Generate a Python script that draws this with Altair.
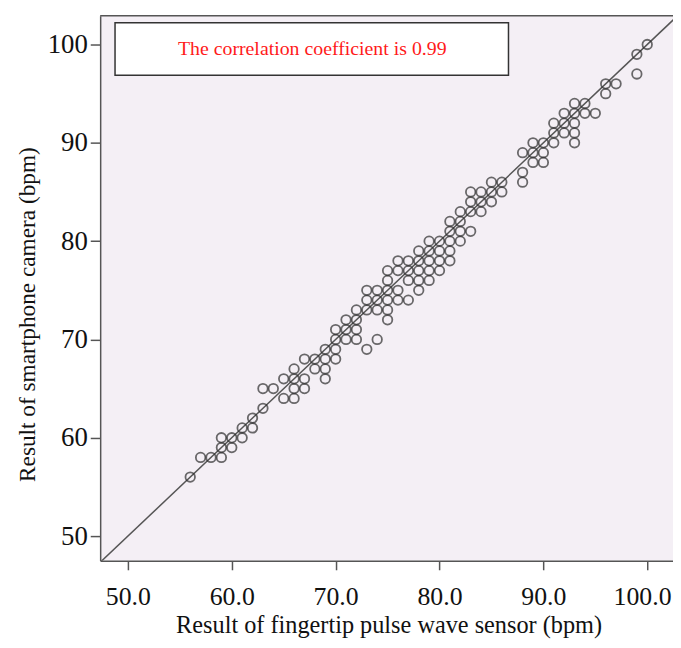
import altair as alt
import pandas as pd

# Points (fingertip sensor bpm, smartphone camera bpm)
x_vals = [56, 57, 58, 59, 59, 60, 59, 60, 61, 61, 62, 62, 63, 63, 64, 65, 66, 66, 67,
          65, 66, 67, 69, 66, 68, 69, 67, 68, 69, 70, 69, 70, 73, 70, 71, 72, 74,
          70, 71, 72, 71, 72, 75, 72, 73, 74, 75, 73, 74, 75, 76, 77, 73, 74, 75, 76, 78,
          75, 77, 78, 79, 75, 76, 77, 78, 79, 80, 76, 77, 78, 79, 80, 81, 78, 79, 80, 81,
          79, 80, 81, 82, 81, 82, 83, 81, 82, 82, 83, 84, 83, 84, 85, 83, 84, 85, 86,
          85, 86, 88, 88, 89, 90, 88, 89, 90, 89, 90, 91, 93, 91, 92, 93, 91, 92, 93,
          92, 93, 94, 95, 93, 94, 96, 96, 97, 99, 99, 100]
y_vals = [56, 58, 58, 58, 59, 59, 60, 60, 60, 61, 61, 62, 63, 65, 65, 64, 64, 65, 65,
          66, 66, 66, 66, 67, 67, 67, 68, 68, 68, 68, 69, 69, 69, 70, 70, 70, 70,
          71, 71, 71, 72, 72, 72, 73, 73, 73, 73, 74, 74, 74, 74, 74, 75, 75, 75, 75, 75,
          76, 76, 76, 76, 77, 77, 77, 77, 77, 77, 78, 78, 78, 78, 78, 78, 79, 79, 79, 79,
          80, 80, 80, 80, 81, 81, 81, 82, 82, 83, 83, 83, 84, 84, 84, 85, 85, 85, 85,
          86, 86, 86, 87, 88, 88, 89, 89, 89, 90, 90, 90, 90, 91, 91, 91, 92, 92, 92,
          93, 93, 93, 93, 94, 94, 95, 96, 96, 97, 99, 100]

line_ends = [47.3, 102.9]          # identity reference line y = x
x_ticks = [50, 60, 70, 80, 90, 100]
y_ticks = [50, 60, 70, 80, 90, 100]
annotation = ["The correlation coefficient is 0.99"]
x_title = "Result of fingertip pulse wave sensor (bpm)"
y_title = "Result of smartphone camera (bpm)"

X_DOMAIN = [47.33, 102.48]
Y_DOMAIN = [47.48, 102.92]
W, H = 578, 550
SERIF = "Liberation Serif"

df = pd.DataFrame({"x": x_vals, "y": y_vals})
line_df = pd.DataFrame({"x": line_ends, "y": line_ends})
ann_df = pd.DataFrame({"t": annotation})

xs = alt.Scale(domain=X_DOMAIN, nice=False, zero=False)
ys = alt.Scale(domain=Y_DOMAIN, nice=False, zero=False)

x_axis = alt.Axis(values=x_ticks, format=".1f", title=x_title, grid=False,
                  tickSize=9, labelPadding=14, labelFontSize=26, titleFontSize=24.5,
                  titleX=W / 2 + 2, titleY=72, titleBaseline="alphabetic",
                  labelFlush=27, labelFlushOffset=24)
y_axis = alt.Axis(values=y_ticks, format="d", title=y_title, grid=False,
                  tickSize=10, labelPadding=3, labelFontSize=27, titleFontSize=23.5,
                  titleX=-73, titleY=301, titleBaseline="middle", titleAlign="center",
                  labelFlush=False)

line = alt.Chart(line_df).mark_line(color="#555555", strokeWidth=1.5, clip=True).encode(
    x=alt.X("x:Q", scale=xs, axis=x_axis),
    y=alt.Y("y:Q", scale=ys, axis=y_axis),
)

points = alt.Chart(df).mark_point(shape="circle", filled=False, size=92, strokeWidth=1.8,
                                  color="#2e2e2e", opacity=0.7).encode(
    x=alt.X("x:Q", scale=xs),
    y=alt.Y("y:Q", scale=ys),
)

top_border = alt.Chart(ann_df).mark_rule(color="#555555", strokeWidth=1.5).encode(
    x=alt.value(0), x2=alt.value(W), y=alt.value(0)
)

box = alt.Chart(ann_df).mark_rect(fill="white", stroke="#333333", strokeWidth=1.5).encode(
    x=alt.value(15), x2=alt.value(412), y=alt.value(7), y2=alt.value(60)
)

label = alt.Chart(ann_df).mark_text(color="#ff1a1a", fontSize=20, font=SERIF).encode(
    x=alt.value(214), y=alt.value(34), text="t:N"
)

chart = alt.layer(line, points, top_border, box, label).properties(
    width=W, height=H,
    autosize=alt.AutoSizeParams(type="none"),
    padding={"left": 93, "top": 5, "right": 0, "bottom": 77},
    background="white",
).configure_view(
    fill="#f4eff5", stroke=None
).configure_axis(
    domainColor="#555555", domainWidth=1.5, tickColor="#555555", tickWidth=1.5,
    labelFont=SERIF, titleFont=SERIF, labelColor="#111111", titleColor="#111111",
    titleFontWeight="normal",
)

chart.save("out.html", embed_options={"renderer": "svg", "actions": False})
